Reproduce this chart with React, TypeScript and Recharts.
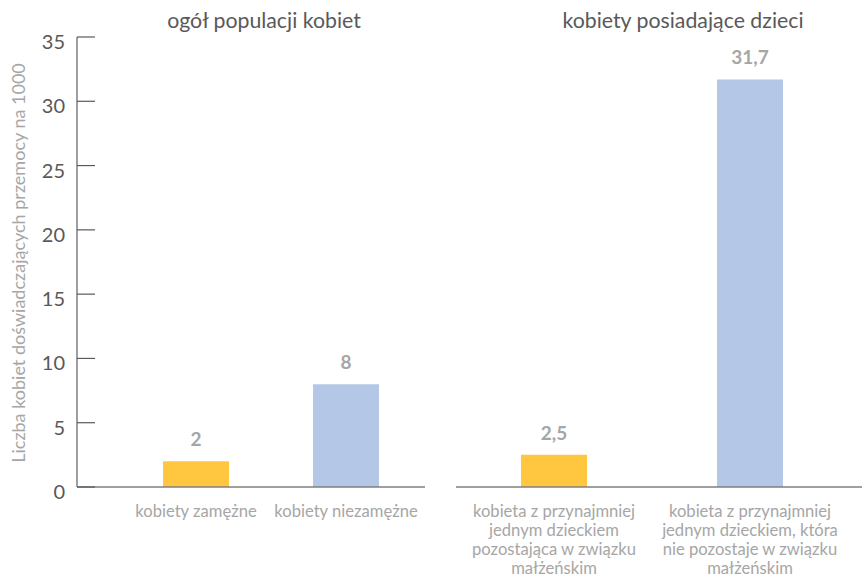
import React from 'react';
import { BarChart, Bar, XAxis, YAxis, Cell, LabelList } from 'recharts';

const leftCategories = ['kobiety zamężne', 'kobiety niezamężne'];
const leftValues = [2, 8];
const rightCategories = [
  'kobieta z przynajmniej\njednym dzieckiem\npozostająca w związku\nmałżeńskim',
  'kobieta z przynajmniej\njednym dzieckiem, która\nnie pozostaje w związku\nmałżeńskim',
];
const rightValues = [2.5, 31.7];
const barColors = ['#FFC640', '#B4C7E7'];
const yTicks = [0, 5, 10, 15, 20, 25, 30, 35];
const panelTitles = ['ogół populacji kobiet', 'kobiety posiadające dzieci'];
const yAxisTitle = 'Liczba kobiet doświadczających przemocy na 1000';

const FONT = 'Lato, "Open Sans", sans-serif';

const leftData = leftCategories.map((c, i) => ({ name: c, value: leftValues[i] }));
const rightData = rightCategories.map((c, i) => ({ name: c, value: rightValues[i] }));

const XTick = (props: any) => {
  const { x, y, payload } = props;
  const lines = String(payload.value).split('\n');
  return (
    <text x={x} y={y} textAnchor="middle" fill="#a6a6a6" fontSize={16.6} fontFamily={FONT}>
      {lines.map((l, i) => (
        <tspan key={i} x={x} dy={i === 0 ? 29.5 : 19}>
          {l}
        </tspan>
      ))}
    </text>
  );
};

const YTick = (props: any) => {
  const { x, y, payload } = props;
  return (
    <g>
      <line x1={x} x2={x + 18} y1={y} y2={y} stroke="#595959" strokeWidth={1.2} />
      <text x={x - 12} y={y + 12} textAnchor="end" fill="#595959" fontSize={20} fontFamily={FONT}>
        {payload.value}
      </text>
    </g>
  );
};

const ValueLabel = (props: any) => {
  const { x, y, width, value } = props;
  return (
    <text
      x={x + width / 2}
      y={y - 15}
      textAnchor="middle"
      fill="#a6a6a6"
      fontSize={19}
      fontWeight="bold"
      fontFamily={FONT}
    >
      {String(value).replace('.', ',')}
    </text>
  );
};

const YTitle = () => (
  <text
    transform="translate(25, 263) rotate(-90)"
    textAnchor="middle"
    fill="#a6a6a6"
    fontSize={18}
    fontFamily={FONT}
  >
    {yAxisTitle}
  </text>
);

const titleStyle: React.CSSProperties = {
  position: 'absolute',
  top: 8,
  fontFamily: FONT,
  fontSize: 21.3,
  color: '#595959',
  whiteSpace: 'nowrap',
  transform: 'translateX(-50%)',
  lineHeight: '24px',
};

export default function App() {
  return (
    <div style={{ position: 'absolute', left: 0, top: 0, width: 862, height: 576, background: '#fff', fontFamily: FONT }}>
      <div style={{ position: 'absolute', left: 0, top: 0 }}>
        <BarChart width={440} height={576} data={leftData} margin={{ top: 37, right: 15, bottom: 0, left: 0 }}>
          <YAxis
            width={77}
            domain={[0, 35]}
            ticks={yTicks}
            interval={0}
            tickSize={0}
            tickMargin={0}
            tickLine={false}
            tick={<YTick />}
            axisLine={{ stroke: '#7f7f7f', strokeWidth: 1.5 }}
            label={<YTitle />}
          />
          <XAxis
            dataKey="name"
            height={89}
            padding={{ left: 44, right: 4 }}
            tickSize={0}
            tickMargin={0}
            tickLine={false}
            interval={0}
            tick={<XTick />}
            axisLine={{ stroke: '#7f7f7f', strokeWidth: 1.5 }}
          />
          <Bar dataKey="value" barSize={66} isAnimationActive={false}>
            {leftData.map((d, i) => (
              <Cell key={i} fill={barColors[i]} />
            ))}
            <LabelList dataKey="value" content={<ValueLabel />} />
          </Bar>
        </BarChart>
      </div>
      <div style={{ position: 'absolute', left: 440, top: 0 }}>
        <BarChart width={422} height={576} data={rightData} margin={{ top: 37, right: 0, bottom: 0, left: 16 }}>
          <YAxis hide domain={[0, 35]} ticks={yTicks} />
          <XAxis
            dataKey="name"
            height={89}
            padding={{ left: 0, right: 14 }}
            tickSize={0}
            tickMargin={0}
            tickLine={false}
            interval={0}
            tick={<XTick />}
            axisLine={{ stroke: '#7f7f7f', strokeWidth: 1.5 }}
          />
          <Bar dataKey="value" barSize={66} isAnimationActive={false}>
            {rightData.map((d, i) => (
              <Cell key={i} fill={barColors[i]} />
            ))}
            <LabelList dataKey="value" content={<ValueLabel />} />
          </Bar>
        </BarChart>
      </div>
      <div style={{ ...titleStyle, left: 264 }}>{panelTitles[0]}</div>
      <div style={{ ...titleStyle, left: 683 }}>{panelTitles[1]}</div>
    </div>
  );
}
